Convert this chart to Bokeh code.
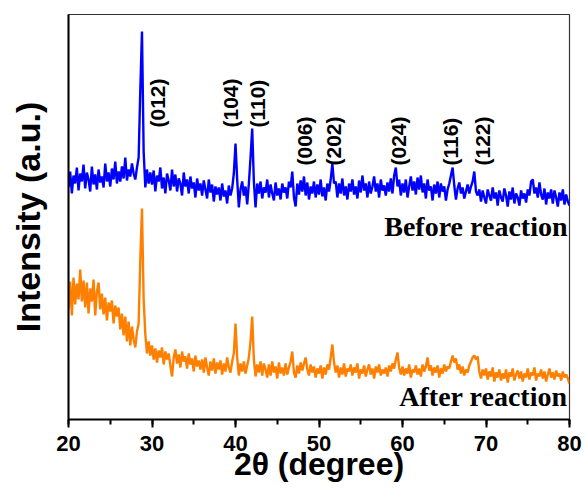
import numpy as np
from bokeh.plotting import figure
from bokeh.models import Label, SingleIntervalTicker, FixedTicker, Range1d
from bokeh.embed import file_html
from bokeh.resources import INLINE

# 2-theta sampling (degrees), step 0.2 from 20 to 80
two_theta = np.round(np.arange(20.0, 80.0001, 0.2), 1)

# Before reaction (arbitrary units)
before = [
    232, 248, 226, 244, 236, 252, 229, 246, 238, 255,
    231, 247, 240, 228, 253, 235, 245, 230, 250, 237,
    243, 232, 256, 238, 247, 233, 251, 240, 258, 236,
    248, 238, 253, 241, 262, 239, 250, 243, 256, 246,
    240, 252, 262, 330, 388, 268, 232, 250, 236, 247,
    235, 249, 228, 244, 238, 252, 231, 242, 226, 246,
    239, 229, 250, 233, 245, 228, 241, 236, 224, 247,
    233, 240, 226, 243, 231, 237, 222, 241, 229, 236,
    224, 239, 230, 221, 240, 227, 235, 218, 233, 225,
    232, 219, 236, 223, 229, 216, 234, 224, 231, 246,
    276, 240, 212, 230, 238, 224, 233, 215, 236, 262,
    291, 238, 212, 236, 226, 238, 221, 232, 227, 240,
    222, 235, 226, 219, 237, 224, 231, 220, 236, 227,
    232, 221, 238, 232, 248, 222, 213, 236, 225, 239,
    228, 243, 224, 237, 220, 233, 226, 238, 222, 235,
    225, 240, 223, 232, 219, 236, 228, 240, 256, 236,
    238, 222, 236, 226, 241, 224, 233, 220, 236, 228,
    240, 225, 233, 221, 239, 227, 244, 229, 236, 222,
    238, 226, 233, 243, 228, 236, 222, 240, 229, 234,
    224, 237, 228, 241, 226, 244, 252, 233, 240, 224,
    236, 227, 240, 222, 233, 243, 229, 238, 225, 242,
    230, 244, 227, 236, 221, 240, 229, 233, 219, 235,
    226, 238, 222, 236, 228, 233, 219, 230, 236, 244,
    252, 234, 220, 231, 237, 226, 232, 221, 228, 235,
    226, 233, 238, 248, 228, 224, 230, 218, 229, 222,
    216, 230, 224, 219, 232, 221, 227, 214, 229, 222,
    218, 231, 224, 213, 228, 220, 232, 216, 226, 222,
    214, 229, 221, 226, 217, 230, 224, 238, 240, 226,
    232, 222, 237, 225, 220, 231, 215, 227, 221, 230,
    216, 229, 222, 213, 227, 219, 230, 215, 225, 218,
    214,
]

# After reaction (arbitrary units)
after = [
    110, 138, 104, 142, 115, 136, 120, 150, 118, 139,
    112, 137, 106, 131, 118, 140, 104, 128, 137, 110,
    126, 105, 122, 99, 117, 108, 119, 96, 114, 103,
    112, 90, 106, 84, 103, 78, 98, 74, 93, 80,
    72, 88, 96, 160, 211, 120, 85, 66, 78, 64,
    74, 60, 71, 57, 69, 62, 72, 55, 68, 60,
    66, 54, 43, 62, 70, 56, 65, 52, 68, 58,
    63, 51, 66, 55, 61, 48, 64, 53, 59, 50,
    60, 47, 62, 52, 44, 58, 49, 61, 46, 57,
    50, 59, 45, 56, 48, 62, 52, 47, 58, 66,
    96, 62, 44, 56, 48, 58, 46, 54, 62, 78,
    103, 60, 43, 55, 47, 58, 44, 56, 50, 42,
    55, 44, 58, 47, 53, 41, 57, 46, 52, 44,
    56, 45, 52, 58, 68, 47, 42, 54, 46, 57,
    49, 56, 62, 50, 44, 55, 47, 53, 42, 51,
    46, 54, 41, 52, 45, 55, 50, 62, 75, 57,
    47, 54, 42, 52, 45, 56, 43, 51, 48, 55,
    44, 52, 47, 56, 41, 50, 46, 54, 43, 50,
    55, 45, 51, 41, 53, 47, 55, 44, 50, 46,
    52, 43, 54, 48, 56, 51, 60, 67, 52, 45,
    53, 44, 51, 46, 55, 42, 50, 47, 54, 45,
    51, 43, 55, 48, 53, 62, 49, 54, 44, 52,
    47, 54, 42, 51, 46, 55, 48, 53, 51, 58,
    64, 57, 61, 50, 55, 46, 53, 44, 50, 47,
    54, 58, 62, 64, 60, 63, 48, 41, 50, 44,
    51, 40, 48, 43, 52, 38, 47, 42, 50, 39,
    46, 41, 50, 37, 47, 43, 51, 39, 45, 49,
    41, 48, 38, 46, 42, 51, 40, 47, 44, 52,
    39, 46, 43, 50, 41, 48, 38, 45, 51, 42,
    47, 40, 49, 43, 46, 39, 48, 42, 45, 41,
    36,
]

# Peak (hkl) labels and their 2-theta positions
hkl_labels = ["(012)", "(104)", "(110)", "(006)", "(202)", "(024)", "(116)", "(122)"]
hkl_pos = [30.66, 39.4, 42.6, 48.3, 51.7, 59.5, 65.75, 69.6]
hkl_level = [292, 292, 292, 254, 254, 254, 254, 254]

SANS = "Liberation Sans"
SERIF = "Liberation Serif"

p = figure(width=587, height=490, output_backend="svg", toolbar_location=None,
           x_range=Range1d(20, 80), y_range=Range1d(0, 405),
           min_border_left=68, min_border_right=18, min_border_top=14,
           min_border_bottom=71)
p.background_fill_color = "white"
p.border_fill_color = "white"
p.outline_line_color = "#333333"
p.outline_line_width = 1.2
p.grid.visible = False

p.line(two_theta, before, line_color="#0000FF", line_width=2.4)
p.line(two_theta, after, line_color="#FF7F00", line_width=2.4)

# x axis
xa = p.xaxis[0]
xa.ticker = SingleIntervalTicker(interval=10, num_minor_ticks=2)
xa.axis_line_color = "black"
xa.axis_line_width = 2
xa.major_tick_line_width = 2
xa.major_tick_in = 0
xa.major_tick_out = 8
xa.minor_tick_line_width = 2
xa.minor_tick_in = 0
xa.minor_tick_out = 5
xa.major_label_text_font = SANS
xa.major_label_text_font_style = "bold"
xa.major_label_text_font_size = "22px"
xa.major_label_text_color = "black"
xa.major_label_standoff = 8
xa.axis_label = "2θ (degree)"
xa.axis_label_text_font = SANS
xa.axis_label_text_font_style = "bold"
xa.axis_label_text_font_size = "32px"
xa.axis_label_text_color = "black"
xa.axis_label_standoff = -8

# y axis: line and title only
ya = p.yaxis[0]
ya.ticker = FixedTicker(ticks=[])
ya.axis_line_color = "black"
ya.axis_line_width = 2
ya.major_tick_out = 0
ya.major_tick_in = 0
ya.minor_tick_out = 0
ya.minor_tick_in = 0
ya.axis_label = "Intensity (a.u.)"
ya.axis_label_text_font = SANS
ya.axis_label_text_font_style = "bold"
ya.axis_label_text_font_size = "34px"
ya.axis_label_text_color = "black"
ya.axis_label_standoff = 22

# sample names
p.add_layout(Label(x=79.76, y=193, text="Before reaction", text_align="right",
                   text_baseline="alphabetic", text_font=SERIF, text_font_style="bold",
                   text_font_size="28px", text_color="black"))
p.add_layout(Label(x=79.76, y=23, text="After reaction", text_align="right",
                   text_baseline="alphabetic", text_font=SERIF, text_font_style="bold",
                   text_font_size="28px", text_color="black"))

# hkl labels
for t, xp, yl in zip(hkl_labels, hkl_pos, hkl_level):
    p.add_layout(Label(x=xp, y=yl, text=t, angle=np.pi / 2, text_align="left",
                       text_baseline="middle", text_font=SANS, text_font_style="bold",
                       text_font_size="21px", text_color="black"))

open("out.html", "w").write(file_html(p, INLINE))
